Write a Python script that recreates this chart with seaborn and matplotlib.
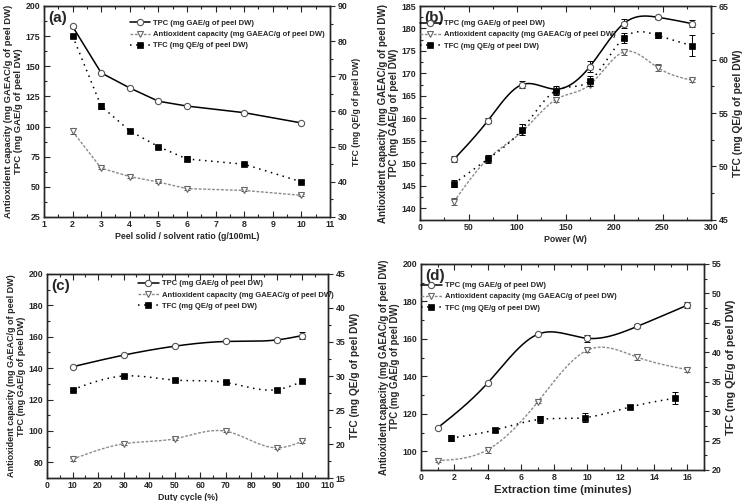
import numpy as np
import pandas as pd
import seaborn as sns
import matplotlib.pyplot as plt
from matplotlib.lines import Line2D
from matplotlib.ticker import MultipleLocator, AutoMinorLocator

sns.set_style('ticks')
plt.rcParams['font.family'] = ['Liberation Sans', 'DejaVu Sans']
plt.rcParams['font.weight'] = 'bold'
plt.rcParams['axes.labelweight'] = 'bold'

# (a) ratio
ratio = [2, 3, 4, 5, 6, 8, 10]
tpc_a = [183, 144.5, 132, 121, 117, 111.5, 103]
tpc_a_err = [1.2, 1.0, 0.8, 0.8, 0.8, 0.8, 0.8]
aox_a = [96, 65.5, 58.5, 54, 48.5, 47, 43]
aox_a_err = [2.5, 1.0, 1.0, 0.8, 0.8, 0.8, 0.8]
tfc_a = [81.5, 61.5, 54.5, 50, 46.5, 45, 40]
tfc_a_err = [0.4, 0.9, 0.5, 0.3, 0.7, 0.3, 0.3]

# (b) power
power = [35, 70, 105, 140, 175, 210, 245, 280]
tpc_b = [150.9, 159.5, 167.5, 166.5, 171.5, 181.1, 182.5, 181.1]
tpc_b_err = [0.7, 0.6, 0.8, 0.5, 1.2, 1.0, 0.3, 0.8]
aox_b = [141.5, 151, 157, 164.2, 167.5, 174.8, 171.3, 168.5]
aox_b_err = [0.8, 0.3, 0.3, 0.5, 0.3, 0.6, 0.7, 0.3]
tfc_b = [48.4, 50.7, 53.45, 57.1, 58.0, 62.0, 62.25, 61.3]
tfc_b_err = [0.3, 0.4, 0.5, 0.4, 0.5, 0.5, 0.2, 1.0]

# (c) duty cycle
duty = [10, 30, 50, 70, 90, 100]
tpc_c = [140.9, 148.3, 154, 157, 158, 160.8]
tpc_c_err = [0.5, 0.5, 0.5, 0.5, 0.5, 2.0]
aox_c = [82, 91.8, 95, 99.8, 89.2, 93.4]
aox_c_err = [1.0, 1.0, 1.0, 0.8, 0.8, 0.8]
tfc_c = [28, 30, 29.4, 29.05, 28, 29.2]
tfc_c_err = [0.2, 0.2, 0.2, 0.2, 0.2, 0.2]

# (d) extraction time
time_d = [1, 4, 7, 10, 13, 16]
tpc_d = [112.5, 136.4, 162.4, 160.3, 166.7, 178]
tpc_d_err = [0.5, 0.5, 0.5, 2.0, 1.0, 1.5]
aox_d = [95, 100.8, 126.2, 154, 150.2, 143.6]
aox_d_err = [0.5, 1.5, 0.5, 1.0, 1.5, 1.5]
time_tfc_d = [1.8, 4.45, 7.15, 9.85, 12.55, 15.25]
tfc_d = [25.4, 26.8, 28.6, 28.9, 30.7, 32.2]
tfc_d_err = [0.5, 0.3, 0.6, 0.7, 0.3, 1.0]

lbl_tpc = 'TPC (mg GAE/g of peel DW)'
lbl_aox = 'Antioxident capacity (mg GAEAC/g of peel DW)'
lbl_tfc = 'TFC (mg QE/g of peel DW)'

ls_tpc = dict(color='black', lw=1.1, ls='-')
ls_aox = dict(color='#8a8a8a', lw=1.0, ls=(0, (2, 1.2)))
ls_tfc = dict(color='black', lw=1.1, ls=(0, (1, 3)))
mk_tpc = dict(marker='o', ms=4.5, mfc='white', mec='#555555', mew=0.8)
mk_aox = dict(marker='v', ms=5, mfc='white', mec='#666666', mew=0.8)
mk_tfc = dict(marker='s', ms=3.8, mfc='black', mec='black', mew=0.5)


def spline(x, y, n=300):
    x = np.asarray(x, float)
    y = np.asarray(y, float)
    h = np.diff(x)
    k = len(x)
    A = np.zeros((k, k))
    r = np.zeros(k)
    A[0, 0] = A[-1, -1] = 1
    for i in range(1, k - 1):
        A[i, i - 1] = h[i - 1]
        A[i, i] = 2 * (h[i - 1] + h[i])
        A[i, i + 1] = h[i]
        r[i] = 3 * ((y[i + 1] - y[i]) / h[i] - (y[i] - y[i - 1]) / h[i - 1])
    c = np.linalg.solve(A, r)
    b = (y[1:] - y[:-1]) / h - h * (2 * c[:-1] + c[1:]) / 3
    d = (c[1:] - c[:-1]) / (3 * h)
    xs = np.linspace(x[0], x[-1], n)
    idx = np.clip(np.searchsorted(x, xs) - 1, 0, k - 2)
    dx = xs - x[idx]
    return xs, y[idx] + b[idx] * dx + c[idx] * dx ** 2 + d[idx] * dx ** 3


def draw(ax, x, y, err, line, mk, smooth):
    if smooth:
        xs, ys = spline(x, y)
        ax.plot(xs, ys, **line, zorder=2)
    else:
        sns.lineplot(x=x, y=y, ax=ax, sort=False, estimator=None, zorder=2, **line)
    ax.errorbar(x, y, yerr=err, fmt='none', ecolor=line['color'] if line['color'] == 'black' else '#555555',
                elinewidth=0.7, capsize=2, capthick=0.7, zorder=3)
    ax.plot(x, y, ls='none', zorder=4, **mk)


def panel(rect, tag, xs, tpc, tpce, aox, aoxe, xtfc, tfc, tfce, smooth,
          xlim, xstep, ylim, ystep, y2lim, y2step, xlabel, leg_xy, fs):
    ax = fig.add_axes(rect)
    ax2 = ax.twinx()
    draw(ax, xs, tpc, tpce, ls_tpc, mk_tpc, smooth)
    draw(ax, xs, aox, aoxe, ls_aox, mk_aox, smooth)
    draw(ax2, xtfc, tfc, tfce, ls_tfc, mk_tfc, smooth)
    ax.set_xlim(*xlim)
    ax.set_ylim(*ylim)
    ax2.set_ylim(*y2lim)
    ax.xaxis.set_major_locator(MultipleLocator(xstep))
    ax.yaxis.set_major_locator(MultipleLocator(ystep))
    ax2.yaxis.set_major_locator(MultipleLocator(y2step))
    for a in (ax.xaxis, ax.yaxis, ax2.yaxis):
        a.set_minor_locator(AutoMinorLocator(2))
    ax.tick_params(which='both', direction='in', top=True, right=False, labelsize=6.3, width=0.8, pad=2.5)
    ax.tick_params(which='major', length=4)
    ax.tick_params(which='minor', length=2)
    ax2.tick_params(which='both', direction='out', labelsize=6.3, width=0.8, pad=2)
    ax2.tick_params(which='major', length=3.5)
    ax2.tick_params(which='minor', length=2)
    for a in (ax, ax2):
        for s in a.spines.values():
            s.set_linewidth(1.0)
            s.set_visible(True)
        for t in a.get_xticklabels() + a.get_yticklabels():
            t.set_fontweight('bold')
    ax.set_xlabel(xlabel, fontsize=fs[2], labelpad=1.5)
    ax.set_ylabel(lbl_aox + '\n' + lbl_tpc, fontsize=fs[0], labelpad=2, linespacing=1.15)
    ax2.set_ylabel(lbl_tfc, fontsize=fs[1], labelpad=3)
    ax.text(0.015, 0.975, tag, transform=ax.transAxes, fontsize=11, fontweight='bold',
            va='top', ha='left')
    handles = [Line2D([], [], **ls_tpc, **mk_tpc),
               Line2D([], [], **ls_aox, **mk_aox),
               Line2D([], [], **ls_tfc, **mk_tfc)]
    ax2.legend(handles, [lbl_tpc, lbl_aox, lbl_tfc], loc='upper left', bbox_to_anchor=leg_xy,
               frameon=False, handlelength=2.7, handletextpad=0.4,
               labelspacing=0.5, borderaxespad=0, borderpad=0,
               prop={'weight': 'bold', 'size': 5.5})
    return ax


fig = plt.figure(figsize=(7.43, 5.01), dpi=100)

panel([0.0592, 0.5669, 0.3849, 0.4212], '(a)', ratio, tpc_a, tpc_a_err, aox_a, aox_a_err,
      ratio, tfc_a, tfc_a_err, False, (1, 11), 1, (25, 200), 25, (30, 90), 10,
      'Peel solid / solvent ratio (g/100mL)', (0.30, 0.935), (6.8, 6.2, 6.3))
panel([0.5653, 0.5609, 0.3917, 0.4271], '(b)', power, tpc_b, tpc_b_err, aox_b, aox_b_err,
      power, tfc_b, tfc_b_err, True, (0, 300), 50, (137.4, 185), 5, (45, 65), 5,
      'Power (W)', (0.0, 0.935), (7.0, 7.4, 6.3))
panel([0.0633, 0.0459, 0.3782, 0.4072], '(c)', duty, tpc_c, tpc_c_err, aox_c, aox_c_err,
      duty, tfc_c, tfc_c_err, True, (0, 110), 10, (70, 200), 20, (15, 45), 5,
      'Duty cycle (%)', (0.324, 0.97), (6.5, 7.3, 6.3))
panel([0.5666, 0.0619, 0.3809, 0.4112], '(d)', time_d, tpc_d, tpc_d_err, aox_d, aox_d_err,
      time_tfc_d, tfc_d, tfc_d_err, True, (0, 17), 2, (90, 200), 20, (20, 55), 5,
      'Extraction time (minutes)', (0.0, 0.913), (6.9, 7.8, 8.2))

fig.savefig('out.png', dpi=100)
